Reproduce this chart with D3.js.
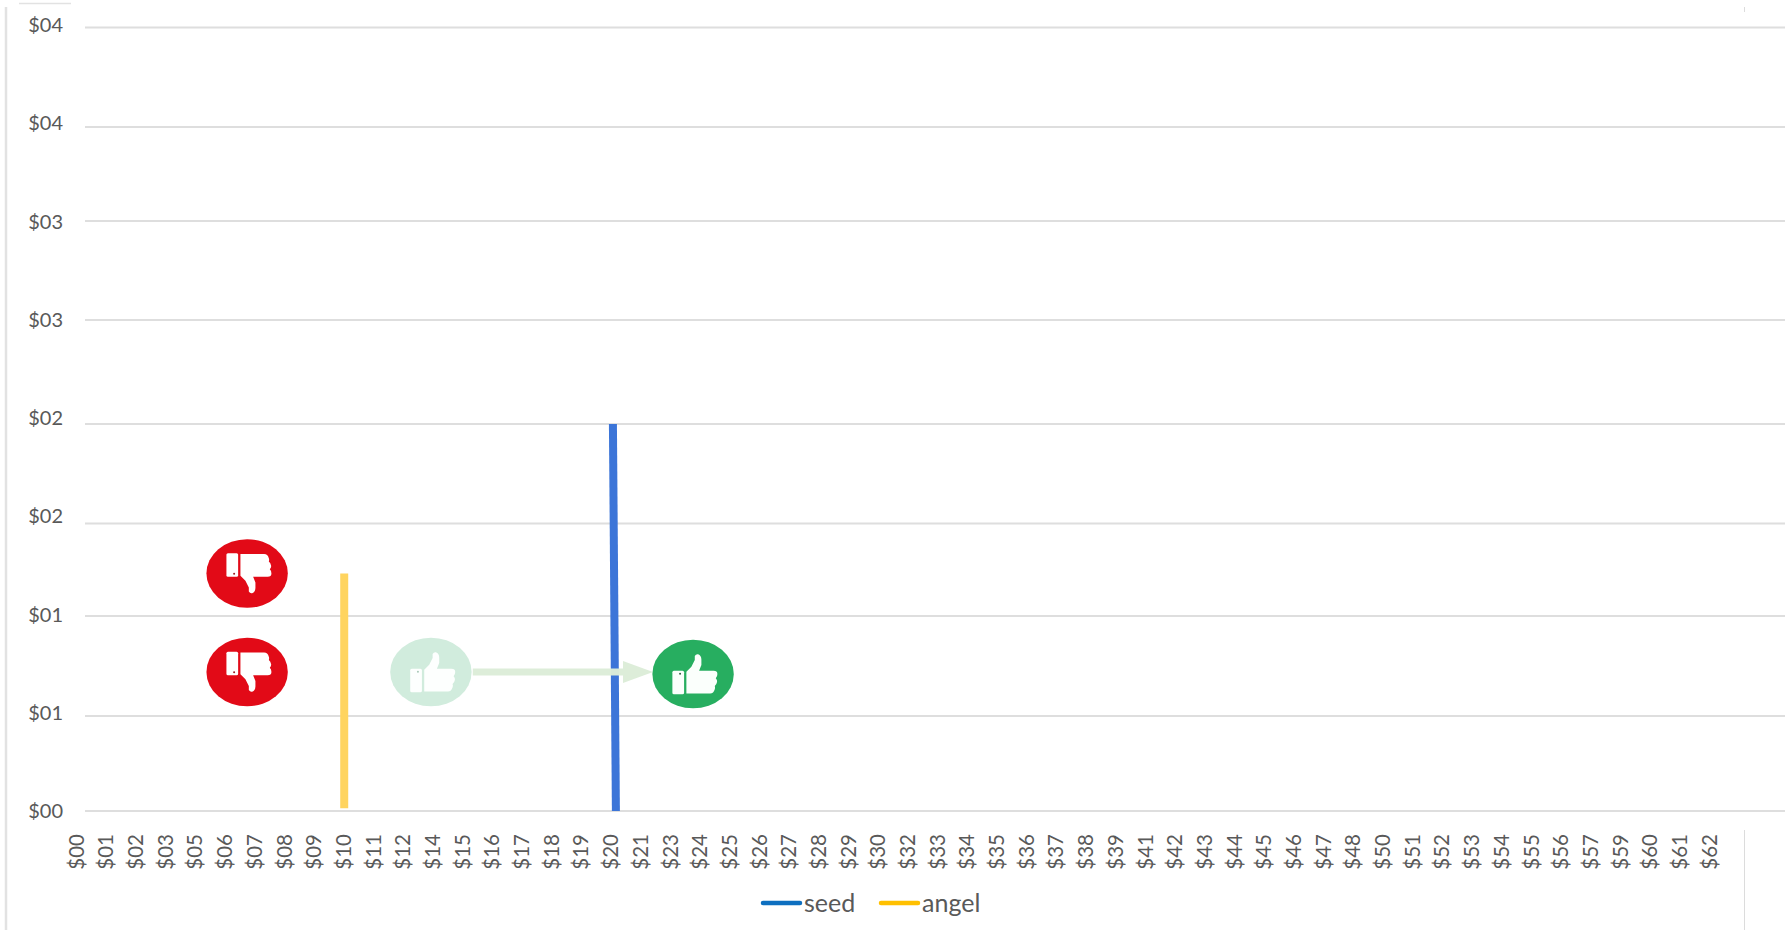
<!DOCTYPE html>
<html>
<head>
<meta charset="utf-8">
<script src="https://cdn.jsdelivr.net/npm/d3@7"></script>
<style>
  html, body { margin: 0; padding: 0; background: #fff; }
  svg { display: block; }
  text { font-family: Lato, "Open Sans", sans-serif; fill: #595959; }
</style>
</head>
<body>
<svg id="chart" width="1787" height="930"></svg>
<script>
// Round-size categories along the horizontal axis
const xLabels = ["$00","$01","$02","$03","$05","$06","$07","$08","$09","$10","$11","$12","$14","$15","$16","$17","$18","$19","$20","$21","$23","$24","$25","$26","$27","$28","$29","$30","$32","$33","$34","$35","$36","$37","$38","$39","$41","$42","$43","$44","$45","$46","$47","$48","$50","$51","$52","$53","$54","$55","$56","$57","$59","$60","$61","$62"];

// Vertical axis ticks and their labels
const yTicks = [0, 0.5, 1, 1.5, 2, 2.5, 3, 3.5, 4];
const yTickLabels = ["$00","$01","$01","$02","$02","$03","$03","$04","$04"];

// Series: category position and value at each end of the vertical line
const seedPositions = [18.15, 18.05];
const seedValues = [0, 2];
const angelPositions = [9, 9];
const angelValues = [0.015, 1.23];

// Verdict badges placed in chart units
const badgePositions = [5.73, 5.73, 11.92, 20.75];
const badgeValues = [1.23, 0.72, 0.72, 0.71];
const badgeKinds = ["down", "down", "fadedUp", "up"];

// Arrow from the faded badge to the solid one
const arrowPositions = [13.33, 19.4];
const arrowValue = 0.72;

// Legend
const legendNames = ["seed", "angel"];
const legendColors = ["#0e6fc0", "#ffc000"];

const seriesColors = { seed: "#3c75d8", angel: "#ffd45f" };
const badgeStyles = {
  down: { fill: "#e20a17", hand: "#ffffff", dot: "#9a1a20", flip: -1 },
  up: { fill: "#27ae60", hand: "#fbfffc", dot: "#2d5c40", flip: 1 },
  fadedUp: { fill: "#d1ecdd", hand: "#fdfffe", dot: "#a9c9b8", flip: 1 }
};

const svg = d3.select("#chart");

const x = d3.scaleLinear().domain([0, xLabels.length - 1]).range([77, 1710]);
// The gridlines sit slightly unevenly, the labels evenly
const yGrid = d3.scaleLinear().domain(yTicks).range([811, 716, 616, 523.5, 424, 320, 221, 127, 27.5]);
const yLabel = d3.scaleLinear().domain([0, 4]).range([811.5, 25]);

// Frame fragments around the plot
const frame = svg.append("g").attr("fill", "none");
frame.append("line").attr("x1", 6).attr("x2", 6).attr("y1", 7).attr("y2", 930)
  .attr("stroke", "#e2e2e2").attr("stroke-width", 2.5);
frame.append("line").attr("x1", 19).attr("x2", 71).attr("y1", 3.5).attr("y2", 3.5)
  .attr("stroke", "#e2e2e2").attr("stroke-width", 1.5);
frame.append("line").attr("x1", 1744.5).attr("x2", 1744.5).attr("y1", 830).attr("y2", 930)
  .attr("stroke", "#dcdcdc").attr("stroke-width", 1);
frame.append("line").attr("x1", 1744.5).attr("x2", 1744.5).attr("y1", 7).attr("y2", 12)
  .attr("stroke", "#dcdcdc").attr("stroke-width", 1);

// Horizontal gridlines
svg.append("g").selectAll("line").data(yTicks).join("line")
  .attr("x1", 85).attr("x2", 1785)
  .attr("y1", d => yGrid(d)).attr("y2", d => yGrid(d))
  .attr("stroke", "#dedede").attr("stroke-width", 2.2);

// Vertical axis labels
const yAxis = d3.axisLeft(yLabel).tickValues(yTicks).tickSize(0)
  .tickFormat((d, i) => yTickLabels[i]);
svg.append("g").attr("transform", "translate(63,0)").call(yAxis)
  .call(g => g.select(".domain").remove())
  .call(g => g.selectAll("text").attr("x", 0).attr("font-size", 20).style("font-family", "Lato").attr("fill", "#595959"));

// Horizontal axis labels, rotated to read upward
const xAxis = d3.axisBottom(x).tickValues(d3.range(xLabels.length)).tickSize(0)
  .tickFormat(i => xLabels[i]);
svg.append("g").attr("transform", "translate(-1,834)").call(xAxis)
  .call(g => g.select(".domain").remove())
  .call(g => g.selectAll("text")
    .attr("transform", "rotate(-90)")
    .attr("x", 0).attr("y", 0).attr("dy", "0.35em")
    .attr("text-anchor", "end")
    .attr("font-size", 20.5).style("font-family", "Lato").attr("fill", "#595959"));

// Series lines
const line = d3.line().x(d => x(d[0])).y(d => yGrid(d[1]));
const seriesLine = (xs, ys, color) => svg.append("path")
  .attr("d", line(d3.zip(xs, ys)))
  .attr("fill", "none").attr("stroke", color).attr("stroke-width", 8);
seriesLine(angelPositions, angelValues, seriesColors.angel);
seriesLine(seedPositions, seedValues, seriesColors.seed);

// Arrow
const arrowY = yGrid(arrowValue);
const arrowStart = x(arrowPositions[0]);
const arrowEnd = x(arrowPositions[1]);
svg.append("path")
  .attr("d", d3.line()([
    [arrowStart, arrowY - 3.5], [arrowEnd - 30, arrowY - 3.5], [arrowEnd - 30, arrowY - 11],
    [arrowEnd, arrowY], [arrowEnd - 30, arrowY + 11], [arrowEnd - 30, arrowY + 3.5],
    [arrowStart, arrowY + 3.5]
  ]) + "Z")
  .attr("fill", "#dcecd8").attr("fill-opacity", 0.97);

// Badges with a hand icon
const cuff = "M-20.7,-1.8Q-20.7,-3.3 -19.2,-3.3H-10.5Q-9,-3.3 -9,-1.8V18.8Q-9,20.3 -10.5,20.3H-19.2Q-20.7,20.3 -20.7,18.8Z";
const hand = "M-6.7,19.5V-2.3L-1.7,-7.3L1.7,-14V-18Q3,-20.2 5,-19.7Q8.3,-18.5 8.3,-14.5V-9L6,-3.3H20.5Q24.3,-3.3 24.3,0Q24.3,2.8 22.7,4.3Q24.3,6 24,7.7Q23.5,10.5 21.7,12Q22.3,14 21.7,15.3Q20.5,19.5 17,19.5Z";
const badges = svg.append("g").selectAll("g")
  .data(d3.zip(badgePositions, badgeValues, badgeKinds)).join("g")
  .attr("transform", d => `translate(${x(d[0])},${yGrid(d[1])})`);
badges.append("ellipse").attr("rx", 40.7).attr("ry", 34.3)
  .attr("fill", d => badgeStyles[d[2]].fill);
const icons = badges.append("g").attr("transform", d => `scale(1,${badgeStyles[d[2]].flip})`);
icons.append("path").attr("d", cuff).attr("fill", d => badgeStyles[d[2]].hand);
icons.append("path").attr("d", hand).attr("fill", d => badgeStyles[d[2]].hand);
icons.append("circle").attr("cx", -13).attr("cy", -0.2).attr("r", 1)
  .attr("fill", d => badgeStyles[d[2]].dot);

// Legend
const legendScale = d3.scalePoint().domain(legendNames).range([761, 879]);
const legend = svg.append("g").selectAll("g").data(legendNames).join("g")
  .attr("transform", d => `translate(${legendScale(d)},903)`);
legend.append("line").attr("x1", 2).attr("x2", 39)
  .attr("stroke", (d, i) => legendColors[i]).attr("stroke-width", 4.5).attr("stroke-linecap", "round");
legend.append("text").attr("x", 43).attr("dy", "0.35em")
  .attr("font-size", 25).text(d => d);
</script>
</body>
</html>
